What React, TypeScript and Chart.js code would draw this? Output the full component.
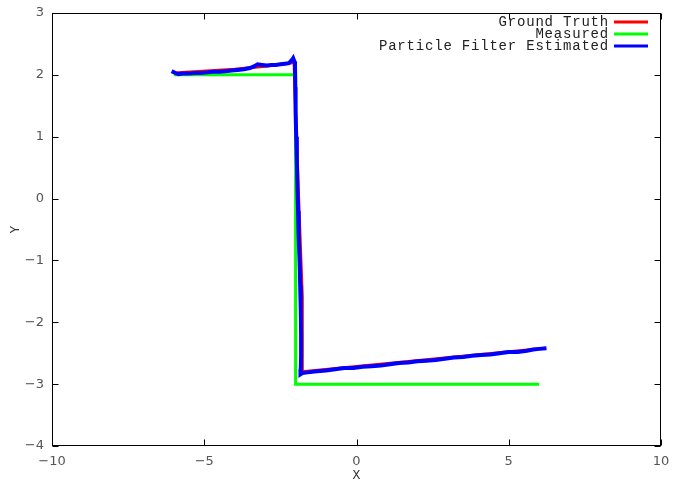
import React, { useEffect, useRef } from "react";
import { Chart, registerables } from "chart.js";

Chart.register(...registerables);

const seriesLabels = ["Ground Truth", "Measured", "Particle Filter Estimated"];
const seriesColors = ["#ff0000", "#00ff00", "#0000ff"];

const truthX = [-6.0, -4.0, -3.0, -2.05, -1.9, -1.78, -1.78, 6.2];
const truthY = [2.03, 2.09, 2.14, 2.2, 0.0, -1.6, -2.8, -2.42];

const measuredX = [-6, -2, -2, 6];
const measuredY = [2, 2, -3, -3];

const estX = [
  -6.07, -5.95, -5.85, -5.7, -5.5, -5.3, -5.1, -4.9, -4.7, -4.5, -4.3, -4.1, -3.9, -3.7, -3.5, -3.35, -3.25,
  -3.1, -2.95, -2.8, -2.65, -2.5, -2.35, -2.22, -2.12, -2.08, -2.04, -2.02,
  -2.01, -2.0, -1.98, -1.96, -1.94, -1.92, -1.9, -1.87, -1.85, -1.83, -1.82, -1.82, -1.83, -1.84, -1.78,
  -1.6, -1.3, -1.0, -0.7, -0.4, -0.1, 0.2, 0.5, 0.8, 1.1, 1.4, 1.7, 2.0, 2.3, 2.6, 2.9, 3.2, 3.5, 3.8,
  4.1, 4.4, 4.7, 5.0, 5.3, 5.6, 5.8, 6.0, 6.24,
];
const estY = [
  2.06, 2.03, 2.01, 2.02, 2.02, 2.03, 2.03, 2.04, 2.05, 2.05, 2.06, 2.07, 2.08, 2.09, 2.11, 2.14, 2.17,
  2.16, 2.15, 2.16, 2.16, 2.17, 2.18, 2.19, 2.24, 2.27, 2.22, 2.18,
  1.8, 1.4, 1.0, 0.6, 0.2, -0.2, -0.6, -1.0, -1.4, -1.8, -2.2, -2.55, -2.75, -2.84, -2.82,
  -2.81, -2.79, -2.78, -2.76, -2.74, -2.74, -2.72, -2.71, -2.7, -2.68, -2.66, -2.65, -2.63, -2.62, -2.61,
  -2.59, -2.57, -2.56, -2.54, -2.53, -2.52, -2.5, -2.48, -2.48, -2.46, -2.44, -2.43, -2.42,
];

const xMin = -10, xMax = 10, xStep = 5;
const yMin = -4, yMax = 3, yStep = 1;

const toPts = (xs: number[], ys: number[]) => xs.map((x, i) => ({ x, y: ys[i] }));
const fmt = (v: number) => (v < 0 ? "\u2212" + Math.abs(v) : String(v));

const framePlugin = {
  id: "frame",
  afterDatasetsDraw(chart: any) {
    const { ctx, chartArea: a, scales } = chart;
    ctx.save();
    ctx.strokeStyle = "#000";
    ctx.lineWidth = 1;
    const L = Math.round(a.left) + 0.5, R = Math.round(a.right) - 0.5;
    const T = Math.round(a.top) + 0.5, B = Math.round(a.bottom) - 0.5;
    ctx.strokeRect(L, T, R - L, B - T);
    const tl = 6;
    ctx.beginPath();
    scales.x.ticks.forEach((t: any) => {
      const px = Math.round(scales.x.getPixelForValue(t.value)) + 0.5;
      ctx.moveTo(px, B); ctx.lineTo(px, B - tl);
      ctx.moveTo(px, T); ctx.lineTo(px, T + tl);
    });
    scales.y.ticks.forEach((t: any) => {
      const py = Math.round(scales.y.getPixelForValue(t.value)) + 0.5;
      ctx.moveTo(L, py); ctx.lineTo(L + tl, py);
      ctx.moveTo(R, py); ctx.lineTo(R - tl, py);
    });
    ctx.stroke();

    // legend
    ctx.font = "14px 'Liberation Mono', monospace";
    (ctx as any).letterSpacing = "0.8px";
    ctx.fillStyle = "#222";
    ctx.textAlign = "right";
    ctx.textBaseline = "middle";
    const textRight = 609;
    const sampleL = 614, sampleR = 648;
    const rows = [22, 34, 46];
    chart.data.datasets.forEach((ds: any, i: number) => {
      const y = rows[i];
      ctx.fillText(ds.label, textRight, y);
      ctx.strokeStyle = ds.borderColor;
      ctx.lineWidth = 3;
      ctx.beginPath();
      ctx.moveTo(sampleL, y); ctx.lineTo(sampleR, y);
      ctx.stroke();
    });
    ctx.restore();
  },
};

export default function App() {
  const ref = useRef<HTMLCanvasElement>(null);
  useEffect(() => {
    if (!ref.current) return;
    const chart = new Chart(ref.current, {
      type: "scatter",
      data: {
        datasets: [
          { label: seriesLabels[0], data: toPts(truthX, truthY), borderColor: seriesColors[0], backgroundColor: seriesColors[0], borderWidth: 3, showLine: true, pointRadius: 0, order: 2 },
          { label: seriesLabels[1], data: toPts(measuredX, measuredY), borderColor: seriesColors[1], backgroundColor: seriesColors[1], borderWidth: 3, showLine: true, pointRadius: 0, order: 1 },
          { label: seriesLabels[2], data: toPts(estX, estY), borderColor: seriesColors[2], backgroundColor: seriesColors[2], borderWidth: 4, showLine: true, pointRadius: 0, order: 0 },
        ],
      },
      options: {
        responsive: false,
        animation: false,
        layout: { padding: { top: 13, right: 22, left: 0, bottom: 0 } },
        plugins: { legend: { display: false }, tooltip: { enabled: false } },
        scales: {
          x: {
            type: "linear", min: xMin, max: xMax,
            grid: { display: false, drawTicks: false },
            border: { display: false },
            ticks: { stepSize: xStep, padding: 8, color: "#555", font: { family: "'DejaVu Sans', sans-serif", size: 13 }, callback: (v: any) => fmt(Number(v)), maxRotation: 0 },
            title: { display: true, text: "X", color: "#333", font: { family: "'Liberation Mono', monospace", size: 13 }, padding: { top: 0, bottom: 1 } },
            afterFit: (s: any) => { s.height = 38; s.paddingLeft = 0; s.paddingRight = 0; },
          },
          y: {
            type: "linear", min: yMin, max: yMax,
            grid: { display: false, drawTicks: false },
            border: { display: false },
            ticks: { stepSize: yStep, padding: 8, color: "#555", font: { family: "'DejaVu Sans', sans-serif", size: 13 }, callback: (v: any) => fmt(Number(v)) },
            title: { display: true, text: "Y", color: "#333", font: { family: "'Liberation Mono', monospace", size: 13 }, padding: { top: 8, bottom: 0 } },
            afterFit: (s: any) => { s.width = 52; s.paddingTop = 0; s.paddingBottom = 0; },
          },
        },
      },
      plugins: [framePlugin],
    });
    return () => chart.destroy();
  }, []);
  return (
    <div style={{ position: "fixed", left: 0, top: 0, width: 683, height: 484, background: "#fff" }}>
      <canvas ref={ref} width={683} height={484} style={{ width: 683, height: 484 }} />
    </div>
  );
}
